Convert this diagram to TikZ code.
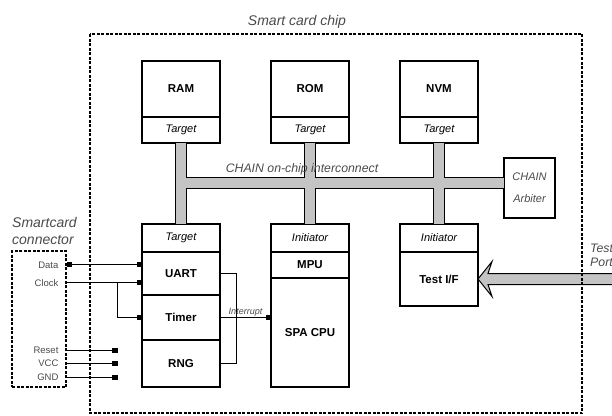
\documentclass[tikz,border=0pt]{standalone}
\usepackage{fontspec}
\setmainfont{Liberation Sans}
\usetikzlibrary{arrows.meta,positioning,calc}
\definecolor{BusGray}  {HTML}{C4C4C4}
\definecolor{LabelGray}{HTML}{4A4A4A}

\begin{document}
\begin{tikzpicture}[x=1pt,y=-1pt,node distance=0pt,
    blk/.style={draw,line width=1.1pt,inner sep=0pt,outer sep=0pt,minimum width=78pt,
                font=\fontsize{11.5}{12}\selectfont\bfseries},
    iface/.style={blk,minimum height=27pt,font=\fontsize{11}{12}\selectfont\itshape},
    lbl/.style={font=\fontsize{12.3}{14}\selectfont\itshape,text=LabelGray,inner sep=0pt},
    pin/.style={font=\fontsize{9.5}{10}\selectfont,text=LabelGray,anchor=east,inner sep=0pt},
    sq/.tip={Rectangle[length=5.5pt,width=4.5pt]},
    sig/.style={line width=0.8pt,-sq},
    frame/.style={draw,line width=1.2pt,dash pattern=on 3pt off 1.5pt}]
    \useasboundingbox (0,0) rectangle (612,415);
    % memories
    \node[blk,minimum height=56pt,anchor=north west] (ram) at (142,61) {RAM};
    \node[iface,minimum height=26pt,below=of ram] (ramt) {Target};
    \node[blk,minimum height=56pt,anchor=north west] (rom) at (271,61) {ROM};
    \node[iface,minimum height=26pt,below=of rom] (romt) {Target};
    \node[blk,minimum height=56pt,anchor=north west] (nvm) at (400,61) {NVM};
    \node[iface,minimum height=26pt,below=of nvm] (nvmt) {Target};
    % peripherals
    \node[iface,minimum height=28pt,anchor=north west] (uartt) at (142,224) {Target};
    \node[blk,minimum height=43pt,below=of uartt] (uart) {UART};
    \node[blk,minimum height=45pt,below=of uart] (timer) {Timer};
    \node[blk,minimum height=47pt,below=of timer] (rng) {RNG};
    % cpu
    \node[iface,minimum height=28pt,anchor=north west] (cpui) at (271,224) {Initiator};
    \node[blk,minimum height=26pt,below=of cpui] (mpu) {MPU};
    \node[blk,minimum height=109pt,below=of mpu] (cpu) {SPA CPU};
    % test interface
    \node[iface,minimum height=28pt,anchor=north west] (tifi) at (400,224) {Initiator};
    \node[blk,minimum height=54pt,below=of tifi] (tif) {Test I/F};
    \node[blk,minimum width=51pt,minimum height=60pt,anchor=north west,align=center,
          font=\fontsize{11}{22}\selectfont\itshape] (arb) at (504,158)
          {\textcolor{LabelGray}{CHAIN}\\\textcolor{LabelGray}{Arbiter}};
    % on-chip bus
    \coordinate (bus) at ($(ramt.south)+(0,40)$);
    \foreach \lw/\c in {12.5pt/black,10pt/BusGray}{
      \draw[line width=\lw,draw=\c] (ramt.south) -- (uartt.north);
      \draw[line width=\lw,draw=\c] (romt.south) -- (cpui.north);
      \draw[line width=\lw,draw=\c] (nvmt.south) -- (tifi.north);
      \draw[line width=\lw,draw=\c] (bus) -- (bus -| arb.west);
    }
    \node[lbl,anchor=south] (chain) at (302,175) {CHAIN on-chip interconnect};
    % test port
    \draw[line width=1pt,fill=BusGray] (tif.east) -- ++(14,-17.5) -- ++(-4,12)
      -- ($(tif.east)+(150,-5.5)$) -- ++(0,11) -- ($(tif.east)+(10,5.5)$) -- ++(4,12) -- cycle;
    \node[lbl,anchor=west,align=left] (tport) at (590,255) {Test\\Port};
    % chip outline
    \draw[frame] (90,34) rectangle (582,413);
    \node[lbl,font=\fontsize{14}{16}\selectfont\itshape] (chip) at (297,22) {Smart card chip};
    % smartcard connector
    \node[frame,minimum width=54pt,minimum height=136pt,inner sep=0pt] (conn) at (39,319) {};
    \node[lbl,anchor=south west,align=left,font=\fontsize{14}{17}\selectfont\itshape]
      (connl) at (12,245) {Smartcard\\connector};
    \coordinate (pdata)  at ($(conn.north east)+(0,14)$);
    \coordinate (pclock) at ($(conn.north east)+(0,32)$);
    \node[pin] (ldata)  at ($(pdata)+(-8,1)$)  {Data};
    \node[pin] (lclock) at ($(pclock)+(-8,1)$) {Clock};
    \draw[line width=0.8pt,sq-sq] (pdata) -- (pdata -| uart.west);
    \draw[sig] (pclock) -- (pclock -| uart.west);
    \coordinate (cbr) at ($(pclock)+(51,0)$);
    \draw[sig] (cbr) |- (timer.west);
    \foreach \nm/\txt/\dy in {reset/Reset/100,vcc/VCC/113,gnd/GND/127}{
      \coordinate (p\nm) at ($(conn.north east)+(0,\dy)$);
      \coordinate (e\nm) at ($(p\nm)+(51,0)$);
      \node[pin] (l\nm) at ($(p\nm)+(-8,0)$) {\txt};
      \draw[sig] (p\nm) -- (e\nm);
    }
    % interrupts
    \draw[line width=0.8pt] (uart.east) -- ++(16,0) |- (rng.east);
    \draw[sig] (timer.east) -- node[above,inner sep=1pt,font=\fontsize{9}{9}\selectfont\itshape,
      text=LabelGray] (irq) {Interrupt} (timer.east -| cpu.west);
\end{tikzpicture}
\end{document}
